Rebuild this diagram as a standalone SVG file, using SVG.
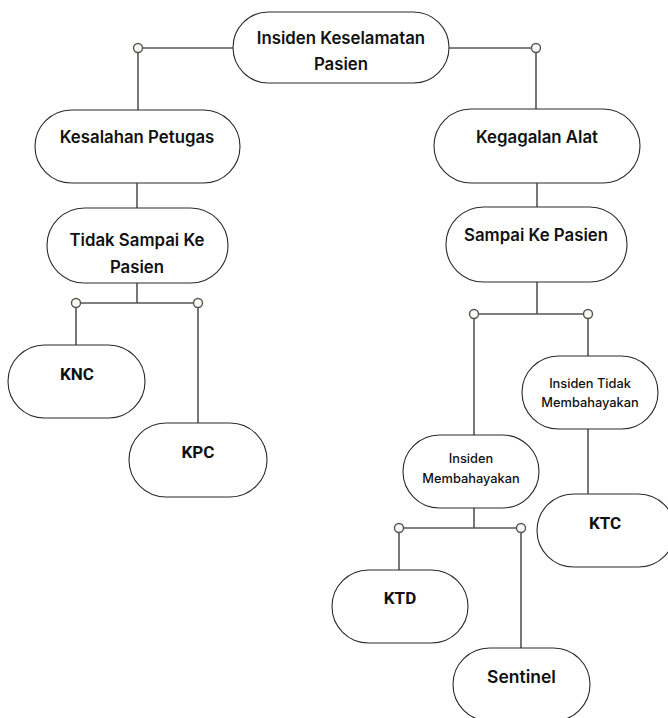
<svg xmlns="http://www.w3.org/2000/svg" width="668" height="718" viewBox="0 0 668 718">
  <style>
    .node { fill: #ffffff; stroke: #2a2a2a; stroke-width: 1.1; }
    .wire { fill: none; stroke: #555555; stroke-width: 1.6; }
    .dot { fill: #fbf8f1; stroke: #555555; stroke-width: 1.4; }
    .t { font-family: Inter, "Noto Sans", "DejaVu Sans", sans-serif; font-weight: 600; fill: #111111; text-anchor: middle; }
    .lg { font-size: 16.8px; }
    .sm { font-size: 12.8px; font-weight: 500; }
    .code { font-family: Roboto, "Liberation Sans", sans-serif; font-weight: 700; font-size: 17px; fill: #111111; text-anchor: middle; }
  </style>
  <rect width="668" height="718" fill="#ffffff"/>

  <g id="connectors">
    <!-- root to the two branches -->
    <polyline class="wire" points="233,48 138,48 138,110"/>
    <polyline class="wire" points="449,48 536,48 536,109"/>
    <!-- left branch -->
    <line class="wire" x1="137" y1="183" x2="137" y2="208"/>
    <line class="wire" x1="137" y1="283" x2="137" y2="303"/>
    <polyline class="wire" points="76,345 76,303 198,303 198,423"/>
    <!-- right branch -->
    <line class="wire" x1="537" y1="183" x2="537" y2="207"/>
    <line class="wire" x1="537" y1="282" x2="537" y2="314"/>
    <polyline class="wire" points="474,435 474,314 588,314 588,356"/>
    <line class="wire" x1="588" y1="429" x2="588" y2="494"/>
    <line class="wire" x1="474" y1="508" x2="474" y2="528"/>
    <polyline class="wire" points="399,570 399,528 521,528 521,648"/>
    <!-- junction dots -->
    <circle class="dot" cx="138" cy="48" r="4.5"/>
    <circle class="dot" cx="536" cy="48" r="4.5"/>
    <circle class="dot" cx="76" cy="303" r="4.5"/>
    <circle class="dot" cx="198" cy="303" r="4.5"/>
    <circle class="dot" cx="474" cy="314" r="4.5"/>
    <circle class="dot" cx="588" cy="314" r="4.5"/>
    <circle class="dot" cx="399" cy="528" r="4.5"/>
    <circle class="dot" cx="521" cy="528" r="4.5"/>
  </g>

  <g id="root">
    <rect class="node" x="233" y="12" width="216" height="71" rx="35.5"/>
    <text class="t lg" x="341" y="44">Insiden Keselamatan</text>
    <text class="t lg" x="341" y="70">Pasien</text>
  </g>

  <g id="kesalahan-petugas">
    <rect class="node" x="35" y="110" width="205" height="73" rx="36.5"/>
    <text class="t lg" x="137" y="143">Kesalahan Petugas</text>
  </g>

  <g id="tidak-sampai">
    <rect class="node" x="47" y="208" width="181" height="75" rx="37.5"/>
    <text class="t lg" x="137" y="246">Tidak Sampai Ke</text>
    <text class="t lg" x="137" y="273">Pasien</text>
  </g>

  <g id="knc">
    <rect class="node" x="8" y="345" width="137" height="73" rx="36.5"/>
    <text class="code" x="77" y="380">KNC</text>
  </g>

  <g id="kpc">
    <rect class="node" x="129" y="423" width="138" height="74" rx="37"/>
    <text class="code" x="198" y="458">KPC</text>
  </g>

  <g id="kegagalan-alat">
    <rect class="node" x="434" y="109" width="206" height="74" rx="37"/>
    <text class="t lg" x="537" y="143">Kegagalan Alat</text>
  </g>

  <g id="sampai-ke-pasien">
    <rect class="node" x="446" y="207" width="181" height="75" rx="37.5"/>
    <text class="t lg" x="536" y="241">Sampai Ke Pasien</text>
  </g>

  <g id="insiden-tidak-membahayakan">
    <rect class="node" x="522" y="356" width="136" height="73" rx="36.5"/>
    <text class="t sm" x="590" y="388">Insiden Tidak</text>
    <text class="t sm" x="590" y="407">Membahayakan</text>
  </g>

  <g id="insiden-membahayakan">
    <rect class="node" x="403" y="435" width="136" height="73" rx="36.5"/>
    <text class="t sm" x="471" y="463">Insiden</text>
    <text class="t sm" x="471" y="483">Membahayakan</text>
  </g>

  <g id="ktc">
    <rect class="node" x="537" y="494" width="138" height="73" rx="36.5"/>
    <text class="code" x="605" y="529">KTC</text>
  </g>

  <g id="ktd">
    <rect class="node" x="332" y="570" width="136" height="73" rx="36.5"/>
    <text class="code" x="400" y="604">KTD</text>
  </g>

  <g id="sentinel">
    <rect class="node" x="453" y="648" width="137" height="73" rx="36.5"/>
    <text class="t" x="521.5" y="683" font-size="17.5">Sentinel</text>
  </g>
</svg>
